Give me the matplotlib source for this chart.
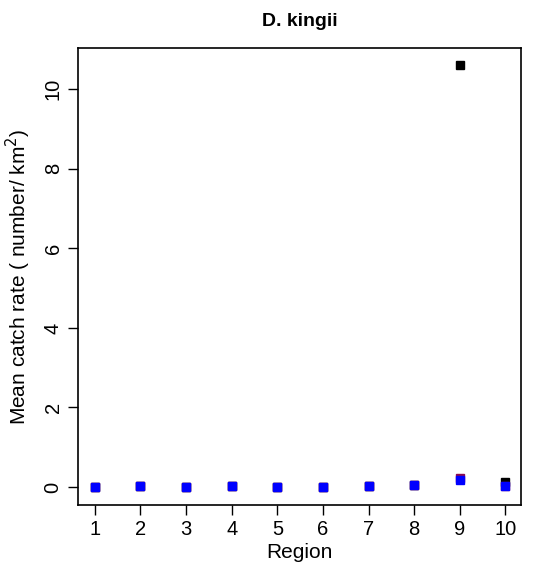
import matplotlib
matplotlib.use("Agg")
import matplotlib.pyplot as plt

plt.rcParams["font.family"] = ["Liberation Sans", "DejaVu Sans"]

regions = [1, 2, 3, 4, 5, 6, 7, 8, 9, 10]
# mean catch rates per region, three series (drawn in order)
black_vals = [0.0, 0.02, 0.0, 0.02, 0.0, 0.0, 0.04, 0.05, 10.6, 0.12]
red_vals = [0.0, 0.02, 0.0, 0.02, 0.0, 0.0, 0.02, 0.05, 0.22, 0.03]
blue_vals = [0.0, 0.03, 0.0, 0.03, 0.0, 0.0, 0.02, 0.06, 0.17, 0.02]

fig = plt.figure(figsize=(5.55, 5.67), dpi=100)
ax = fig.add_axes([0.1405, 0.1093, 0.7982, 0.806])

ax.plot(regions, black_vals, "s", color="black", markersize=6, linestyle="none")
ax.plot(regions, red_vals, "s", color="#8b0a50", markersize=6, linestyle="none")
ax.plot(regions, blue_vals, "s", color="blue", markersize=6, linestyle="none")

ax.set_xlim(0.63, 10.34)
ax.set_ylim(-0.45, 11.03)
ax.set_xticks(regions)
ax.set_yticks([0, 2, 4, 6, 8, 10])
ax.tick_params(axis="both", labelsize=14.5, length=7, width=1, color="black", pad=4)
for lab in ax.get_yticklabels():
    lab.set_rotation(90)
    lab.set_va("center")

ax.set_xlabel("Region", fontsize=15, labelpad=3)
ax.set_ylabel("Mean catch rate ( number/ km$^2$)", fontsize=15, labelpad=8)
ax.set_title("D. kingii", fontsize=14, fontweight="bold", pad=16)

for sp in ax.spines.values():
    sp.set_linewidth(1.2)

fig.savefig("out.png", dpi=100)
